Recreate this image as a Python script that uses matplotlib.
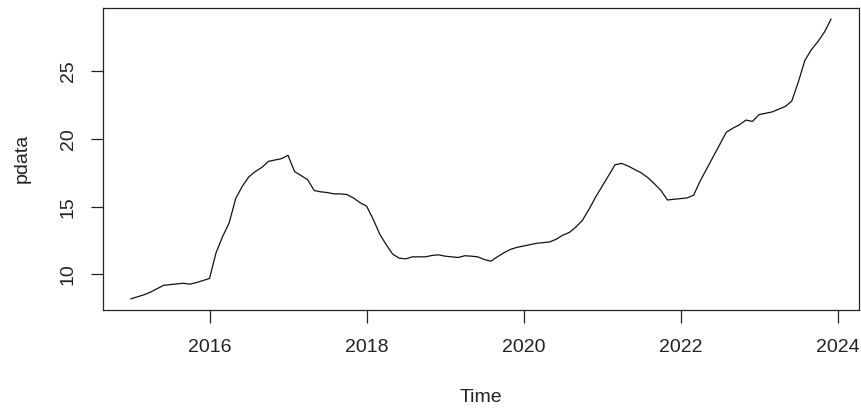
import numpy as np
import matplotlib
matplotlib.use("Agg")
import matplotlib.pyplot as plt

# monthly series, Jan 2015 .. Dec 2023
start_year = 2015
pdata = [
    8.2, 8.35, 8.5, 8.7, 8.95, 9.2, 9.25, 9.3, 9.35, 9.28, 9.4, 9.55,
    9.7, 11.6, 12.8, 13.8, 15.6, 16.5, 17.2, 17.6, 17.9, 18.35, 18.45, 18.55,
    18.8, 17.6, 17.3, 17.0, 16.2, 16.1, 16.05, 15.95, 15.95, 15.9, 15.65, 15.3,
    15.05, 14.1, 13.0, 12.2, 11.5, 11.2, 11.15, 11.3, 11.3, 11.3, 11.4, 11.45,
    11.35, 11.3, 11.25, 11.38, 11.35, 11.3, 11.1, 10.98, 11.3, 11.6, 11.85, 12.0,
    12.1, 12.2, 12.3, 12.35, 12.4, 12.6, 12.9, 13.1, 13.5, 14.0, 14.8, 15.7,
    16.5, 17.3, 18.1, 18.2, 18.0, 17.75, 17.5, 17.15, 16.7, 16.2, 15.5, 15.55,
    15.6, 15.65, 15.85, 16.9, 17.8, 18.7, 19.6, 20.5, 20.8, 21.05, 21.4, 21.3,
    21.8, 21.9, 22.0, 22.2, 22.4, 22.8, 24.2, 25.8, 26.6, 27.2, 27.9, 28.85,
]
x_ticks = [2016, 2018, 2020, 2022, 2024]
y_ticks = [10, 15, 20, 25]

plt.rcParams['font.family'] = ['Liberation Sans', 'DejaVu Sans']

W, H = 861, 411
fig = plt.figure(figsize=(W / 100, H / 100), dpi=100)
ax = fig.add_axes([103 / W, 1 - 310 / H, (859 - 103) / W, (310 - 8) / H])

t = start_year + np.arange(len(pdata)) / 12
y = np.array(pdata)
ax.plot(t, y, color="#111111", lw=0.9)

# R-style 4% padding on both axes
def padded(lo, hi):
    r = hi - lo
    return lo - 0.04 * r, hi + 0.04 * r

ax.set_xlim(*padded(t[0], t[-1]))
ax.set_ylim(*padded(y.min(), y.max()))

ax.set_xticks(x_ticks)
ax.set_yticks(y_ticks)
ax.tick_params(direction="out", length=9, width=0.9, colors="#222222",
               labelsize=14, labelcolor="#222222")
ax.tick_params(axis="x", pad=12)
ax.tick_params(axis="y", pad=10)
for lab in ax.get_yticklabels():
    lab.set_rotation(90)
    lab.set_va("center")
for sp in ax.spines.values():
    sp.set_color("#222222")
    sp.set_linewidth(0.9)

fig.text(481 / W, 1 - 397 / H, "Time", ha="center", va="center",
         fontsize=14, color="#222222")
fig.text(22 / W, 1 - 158 / H, "pdata", ha="center", va="center",
         rotation=90, fontsize=14, color="#222222")

fig.savefig("out.png", dpi=100, facecolor="white")
